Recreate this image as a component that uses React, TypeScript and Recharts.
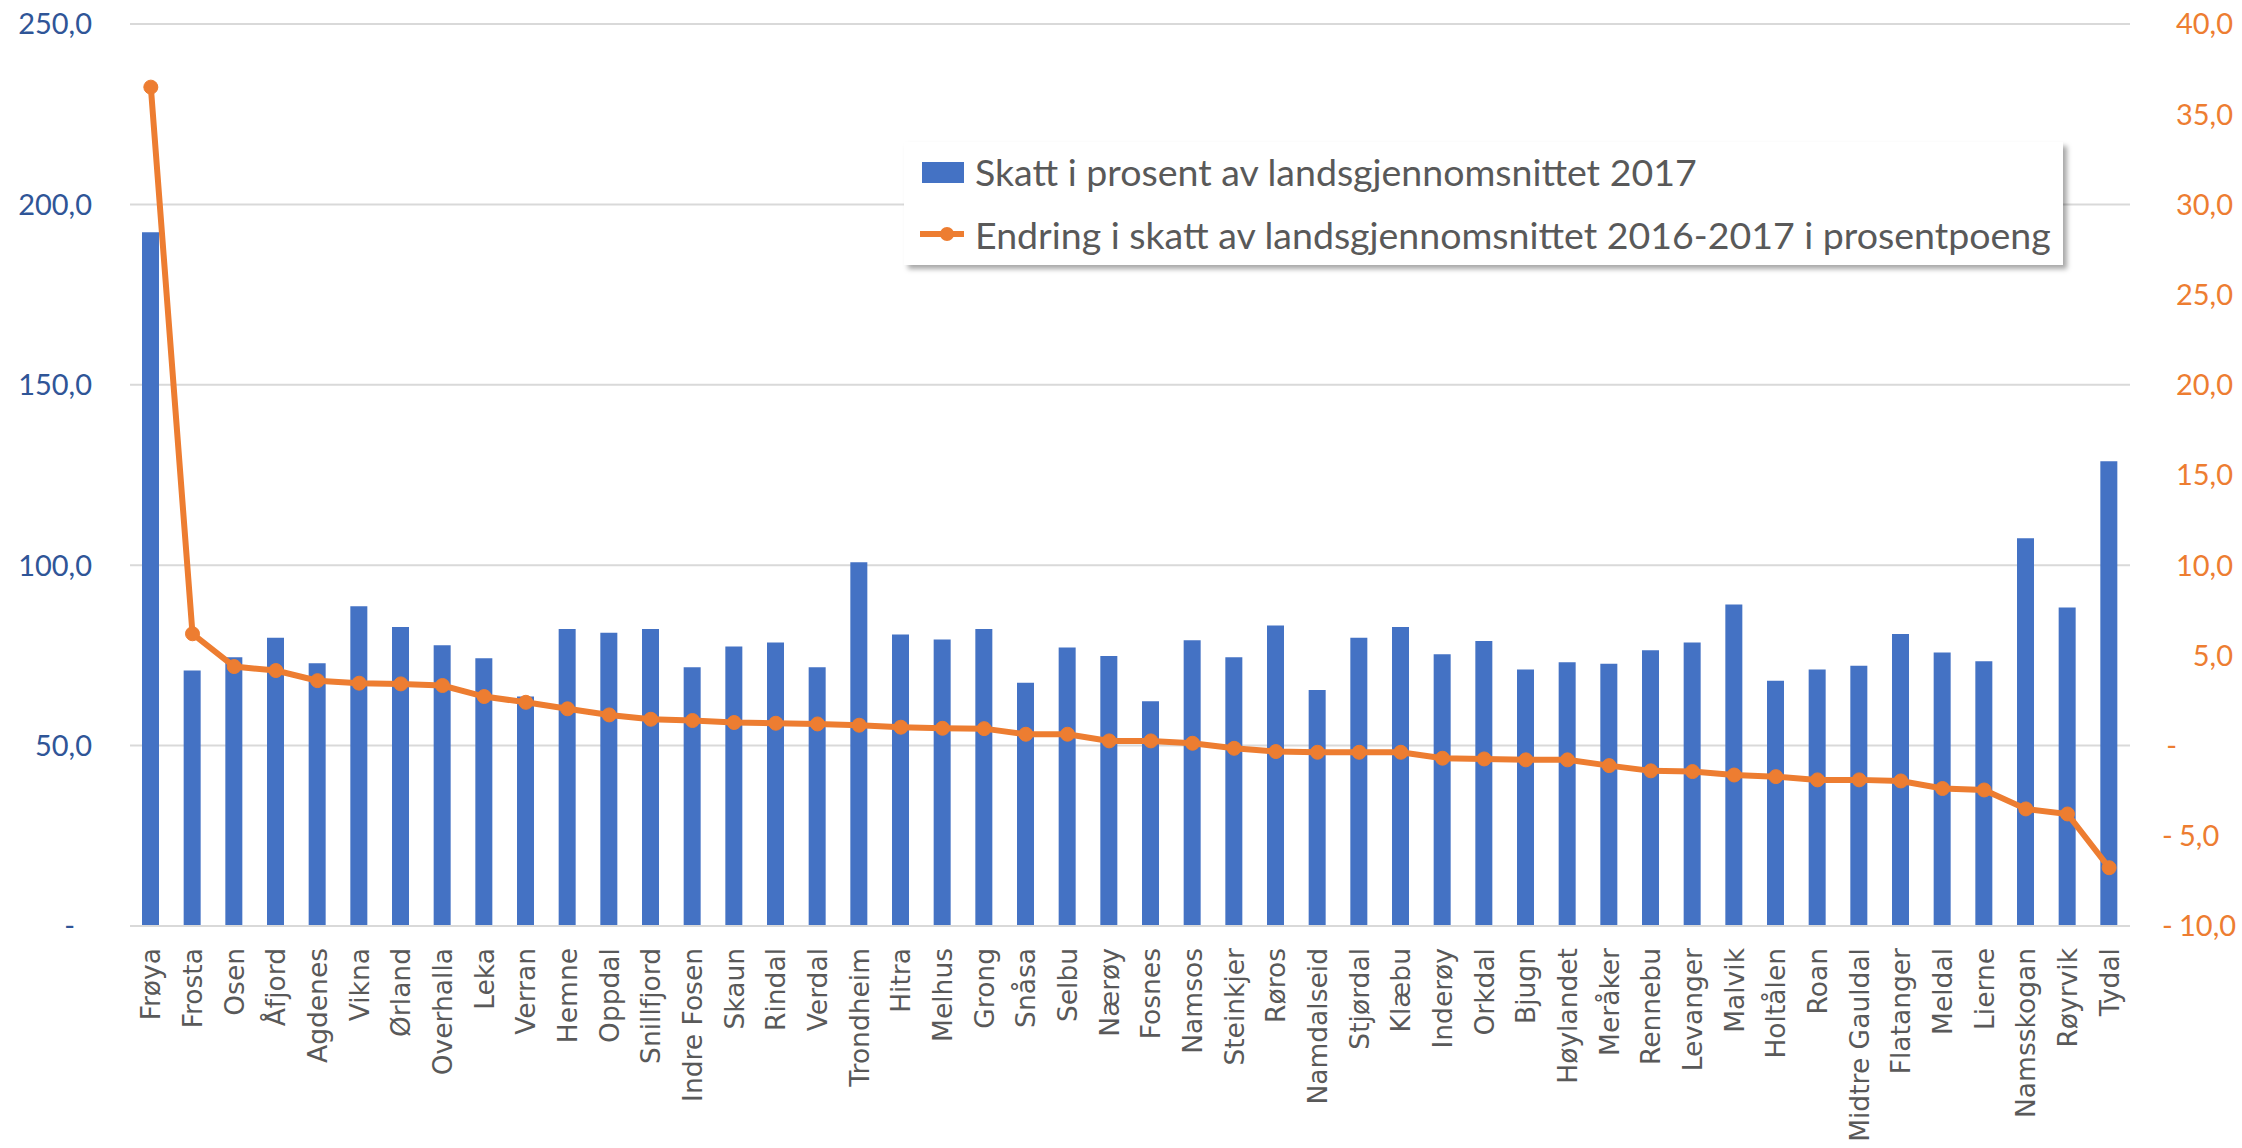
import React from 'react';
import { ComposedChart, Bar, Line, XAxis, YAxis, CartesianGrid, Legend } from 'recharts';

const categories = ['Frøya','Frosta','Osen','Åfjord','Agdenes','Vikna','Ørland','Overhalla','Leka','Verran','Hemne','Oppdal','Snillfjord','Indre Fosen','Skaun','Rindal','Verdal','Trondheim','Hitra','Melhus','Grong','Snåsa','Selbu','Nærøy','Fosnes','Namsos','Steinkjer','Røros','Namdalseid','Stjørdal','Klæbu','Inderøy','Orkdal','Bjugn','Høylandet','Meråker','Rennebu','Levanger','Malvik','Holtålen','Roan','Midtre Gauldal','Flatanger','Meldal','Lierne','Namsskogan','Røyrvik','Tydal'];

const skatt = [192.3,70.8,74.5,79.9,72.8,88.6,82.9,77.8,74.2,63.6,82.3,81.3,82.3,71.7,77.5,78.6,71.7,100.8,80.8,79.4,82.3,67.4,77.2,74.8,62.3,79.2,74.5,83.3,65.4,79.9,82.9,75.3,79.0,71.1,73.1,72.7,76.4,78.6,89.1,68.0,71.1,72.1,80.9,75.8,73.4,107.5,88.3,128.8];

const endring = [36.5,6.2,4.38,4.16,3.6,3.46,3.42,3.33,2.72,2.4,2.04,1.7,1.46,1.39,1.28,1.24,1.2,1.13,1.02,0.96,0.94,0.63,0.63,0.26,0.26,0.13,-0.15,-0.33,-0.37,-0.37,-0.37,-0.7,-0.74,-0.79,-0.79,-1.11,-1.4,-1.44,-1.63,-1.72,-1.9,-1.9,-1.96,-2.38,-2.46,-3.51,-3.79,-6.77];

const leftTicks = [0, 50, 100, 150, 200, 250];
const rightTicks = [-10, -5, 0, 5, 10, 15, 20, 25, 30, 35, 40];

const seriesBarName = 'Skatt i prosent av landsgjennomsnittet 2017';
const seriesLineName = 'Endring i skatt av landsgjennomsnittet 2016-2017 i prosentpoeng';

const data = categories.map((c, i) => ({ name: c, skatt: skatt[i], endring: endring[i] }));

const BLUE = '#4472C4';
const ORANGE = '#ED7D31';
const TEXT = '#595959';
const TICKFONT = 'Lato, "Open Sans", sans-serif';

const fmt = (v: number) => Math.abs(v).toFixed(1).replace('.', ',');

const LeftTick = (props: any) => {
  const { x, y, payload } = props;
  const v = payload.value;
  if (v === 0) {
    return <text x={x - 17} y={y} dy="0.36em" textAnchor="end" fill="#2F5597" fontSize={29} fontFamily={TICKFONT}>-</text>;
  }
  return <text x={x} y={y} dy="0.36em" textAnchor="end" fill="#2F5597" fontSize={29} fontFamily={TICKFONT}>{fmt(v)}</text>;
};

const RightTick = (props: any) => {
  const { x, y, payload } = props;
  const v = payload.value;
  const common = { fill: ORANGE, fontSize: 29, fontFamily: TICKFONT, dy: '0.36em' };
  if (v === 0) {
    return <text x={x - 56} y={y} textAnchor="end" {...common}>-</text>;
  }
  if (v < 0) {
    return (
      <g>
        <text x={x - 71} y={y} textAnchor="start" {...common}>-</text>
        <text x={x - 54} y={y} textAnchor="start" {...common}>{fmt(v)}</text>
      </g>
    );
  }
  return <text x={x} y={y} textAnchor="end" {...common}>{fmt(v)}</text>;
};

const XTick = (props: any) => {
  const { x, y, payload } = props;
  return (
    <text transform={`rotate(-90 ${x} ${y})`} x={x} y={y} textAnchor="end" dominantBaseline="central"
      fontFamily='"DejaVu Sans", sans-serif' fontSize={26.5} fill={TEXT}>{payload.value}</text>
  );
};

const LegendBox = () => (
  <div style={{ width: 1159, height: 123, background: '#fff', boxShadow: '4px 4px 5px rgba(0,0,0,0.35)', position: 'relative', fontFamily: TICKFONT, color: TEXT, fontSize: 37.5 }}>
    <svg width={60} height={123} style={{ position: 'absolute', left: 0, top: 0 }}>
      <rect x={18} y={20} width={48} height={21} fill={BLUE} />
      <line x1={16} y1={92} x2={70} y2={92} stroke={ORANGE} strokeWidth={6} />
      <circle cx={43} cy={92} r={7} fill={ORANGE} />
    </svg>
    <div style={{ position: 'absolute', left: 71, top: 30, transform: 'translateY(-50%)', whiteSpace: 'nowrap', lineHeight: 1 }}>{seriesBarName}</div>
    <div style={{ position: 'absolute', left: 71, top: 93, transform: 'translateY(-50%)', whiteSpace: 'nowrap', lineHeight: 1 }}>{seriesLineName}</div>
  </div>
);

export default function App() {
  return (
    <div style={{ position: 'absolute', left: 0, top: 0, width: 2242, height: 1148, background: '#fff' }}>
      <ComposedChart width={2242} height={1148} data={data} margin={{ top: 24, right: 0, left: 0, bottom: 0 }}>
        <CartesianGrid yAxisId="left" vertical={false} stroke="#D9D9D9" strokeWidth={2} />
        <XAxis dataKey="name" interval={0} height={222} tickSize={0} tickMargin={22} tick={<XTick />}
          axisLine={{ stroke: '#D9D9D9', strokeWidth: 2 }} tickLine={false} />
        <YAxis yAxisId="left" orientation="left" width={130} domain={[0, 250]} ticks={leftTicks}
          tickSize={0} tickMargin={38} tick={<LeftTick />} axisLine={false} tickLine={false} />
        <YAxis yAxisId="right" orientation="right" width={112} domain={[-10, 40]} ticks={rightTicks}
          tickSize={0} tickMargin={103} tick={<RightTick />} axisLine={false} tickLine={false} />
        <Bar yAxisId="left" dataKey="skatt" name={seriesBarName} fill={BLUE} barSize={17} isAnimationActive={false} />
        <Line yAxisId="right" dataKey="endring" name={seriesLineName} type="linear" stroke={ORANGE} strokeWidth={6}
          dot={{ r: 7, fill: ORANGE, stroke: ORANGE, strokeWidth: 1 }} activeDot={false} isAnimationActive={false} />
        <Legend layout="vertical" align="center" verticalAlign="middle" content={<LegendBox />}
          wrapperStyle={{ left: 904, top: 142, width: 1159, height: 123 }} />
      </ComposedChart>
    </div>
  );
}
